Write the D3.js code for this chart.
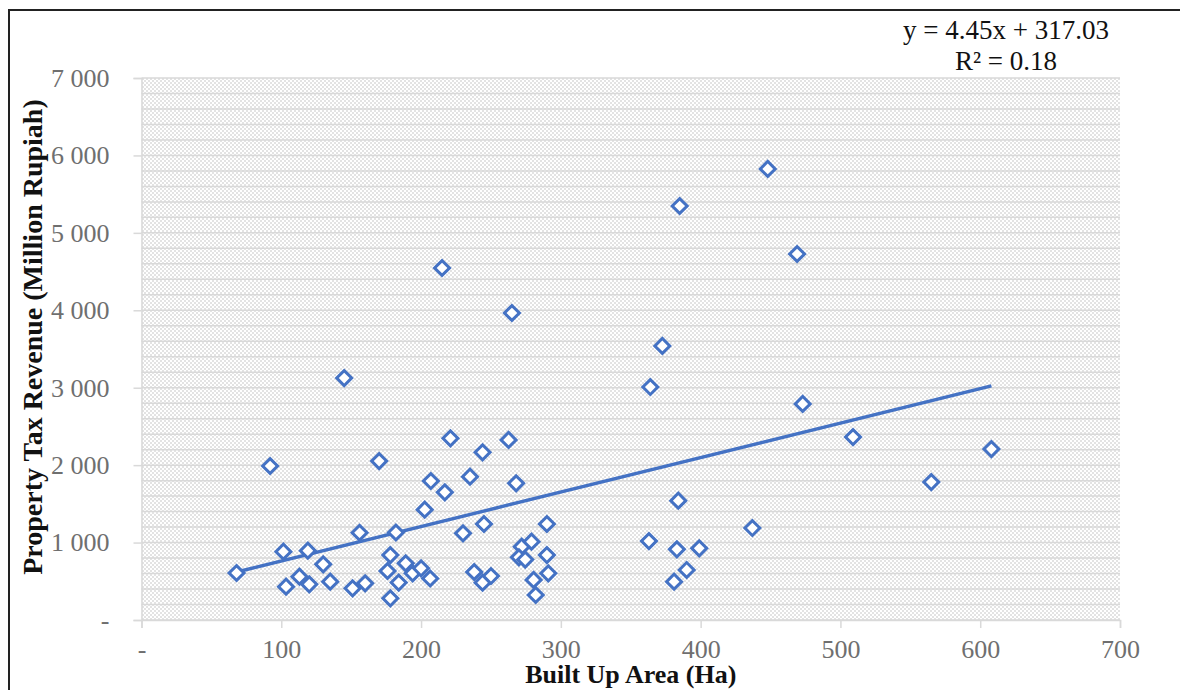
<!DOCTYPE html>
<html>
<head>
<meta charset="utf-8">
<script src="https://cdn.jsdelivr.net/npm/d3@7"></script>
<style>
  html, body { margin: 0; padding: 0; background: #fff; }
  svg { display: block; font-family: "Liberation Serif", "DejaVu Serif", serif; }
</style>
</head>
<body>
<div id="chart"></div>
<script>
// Built up area (Ha) vs property tax revenue (million Rupiah)
const builtUpArea = [
  68, 92, 101.5, 103.4, 113, 119, 120, 130, 135, 145,
  151, 156, 160, 170, 178, 176, 178, 182, 184, 189,
  194, 200, 206.5, 202.6, 207, 217, 221, 215, 230, 235,
  238, 244, 245, 244, 250, 262.6, 265, 268, 272, 270,
  274.5, 279, 280.5, 282, 290, 290, 291, 363, 364, 372.6,
  381, 383, 384, 385, 390, 399, 437, 448, 469, 473,
  509, 565, 608
];
const taxRevenue = [
  607, 1989, 882, 430, 559, 895, 461, 719, 495, 3125,
  409, 1127, 474, 2053, 839, 633, 280, 1130, 484, 732,
  603, 668, 536, 1425, 1795, 1649, 2347, 4546, 1120, 1851,
  620, 2166, 1240, 482, 568, 2325, 3965, 1765, 947, 810,
  781, 1011, 517, 323, 1240, 839, 603, 1020, 3009, 3539,
  495, 913, 1541, 5347, 646, 926, 1188, 5825, 4727, 2790,
  2363, 1782, 2208
];
// Excel linear trendline as printed on the chart
const trendSlope = 4.45;
const trendIntercept = 317.03;
const trendLabels = ["y = 4.45x + 317.03", "R² = 0.18"];

const xTicks = [0, 100, 200, 300, 400, 500, 600, 700];
const yTicks = [0, 1000, 2000, 3000, 4000, 5000, 6000, 7000];
const yGrid = d3.range(0, 7001, 200);

const xTitle = "Built Up Area (Ha)";
const yTitle = "Property Tax Revenue (Million Rupiah)";

const width = 1180, height = 690;
const blue = "#4472c4";
const gridColor = "#d9d9d9";
const labelColor = "#6f6f6f";

const svg = d3.select("#chart").append("svg")
  .attr("width", width).attr("height", height)
  .attr("viewBox", [0, 0, width, height]);

// background hatch like Excel's dotted fill
const pat = svg.append("defs").append("pattern")
  .attr("id", "dots").attr("patternUnits", "userSpaceOnUse")
  .attr("width", 4).attr("height", 4);
pat.append("rect").attr("width", 4).attr("height", 4).attr("fill", "#fff");
pat.append("rect").attr("x", 0).attr("y", 0).attr("width", 2).attr("height", 2).attr("fill", "#e3e3e3");
pat.append("rect").attr("x", 2).attr("y", 2).attr("width", 2).attr("height", 2).attr("fill", "#e3e3e3");

// chart frame
svg.append("rect")
  .attr("x", 9).attr("y", 10).attr("width", width + 20).attr("height", height + 20)
  .attr("fill", "#fff").attr("stroke", "#222").attr("stroke-width", 2);

const x = d3.scaleLinear().domain([0, 700]).range([141.5, 1120]);
const y = d3.scaleLinear().domain([0, 7000]).range([620, 78]);

// plot area
svg.append("rect")
  .attr("x", x(0)).attr("y", y(7000))
  .attr("width", x(700) - x(0)).attr("height", y(0) - y(7000))
  .attr("fill", "url(#dots)");

svg.append("g").selectAll("line").data(yGrid).join("line")
  .attr("x1", x(0)).attr("x2", x(700))
  .attr("y1", d => y(d)).attr("y2", d => y(d))
  .attr("stroke", gridColor).attr("stroke-width", 1.5);

// axes
const fmtY = d => d === 0 ? "-" : d3.format(",")(d).replace(",", " ");
const fmtX = d => d === 0 ? "-" : String(d);

const gy = svg.append("g").attr("transform", `translate(${x(0)},0)`)
  .call(d3.axisLeft(y).tickValues(yTicks).tickFormat(fmtY).tickSize(8).tickPadding(24));
gy.selectAll("path, line").attr("stroke", gridColor).attr("stroke-width", 1.5);
gy.selectAll("text").attr("font-size", 26).attr("fill", labelColor)
  .attr("font-family", "Liberation Serif, serif");

const gx = svg.append("g").attr("transform", `translate(0,${y(0)})`)
  .call(d3.axisBottom(x).tickValues(xTicks).tickFormat(fmtX).tickSize(8).tickPadding(12));
gx.selectAll("path, line").attr("stroke", gridColor).attr("stroke-width", 1.5);
gx.selectAll("text").attr("font-size", 26).attr("fill", labelColor)
  .attr("font-family", "Liberation Serif, serif");

// trendline across the data range
const xExt = d3.extent(builtUpArea);
svg.append("line")
  .attr("x1", x(xExt[0])).attr("y1", y(trendSlope * xExt[0] + trendIntercept))
  .attr("x2", x(xExt[1])).attr("y2", y(trendSlope * xExt[1] + trendIntercept))
  .attr("stroke", blue).attr("stroke-width", 3.4);

// diamond markers
const diamond = d3.symbol().type(d3.symbolSquare).size(112);
svg.append("g").selectAll("path").data(builtUpArea).join("path")
  .attr("d", diamond)
  .attr("transform", (d, i) => `translate(${x(d)},${y(taxRevenue[i])}) rotate(45)`)
  .attr("fill", "#fff").attr("stroke", blue).attr("stroke-width", 3);

// equation label
svg.append("g").selectAll("text").data(trendLabels).join("text")
  .attr("x", 1006).attr("y", (d, i) => 39 + i * 31)
  .attr("text-anchor", "middle").attr("font-size", 27).attr("fill", "#111")
  .text(d => d);

// axis titles
svg.append("text")
  .attr("x", x(350)).attr("y", 683)
  .attr("text-anchor", "middle").attr("font-size", 26).attr("font-weight", "bold")
  .attr("fill", "#111").text(xTitle);

svg.append("text")
  .attr("transform", "translate(42,337) rotate(-90)")
  .attr("text-anchor", "middle").attr("font-size", 28).attr("font-weight", "bold")
  .attr("fill", "#111").text(yTitle);
</script>
</body>
</html>
